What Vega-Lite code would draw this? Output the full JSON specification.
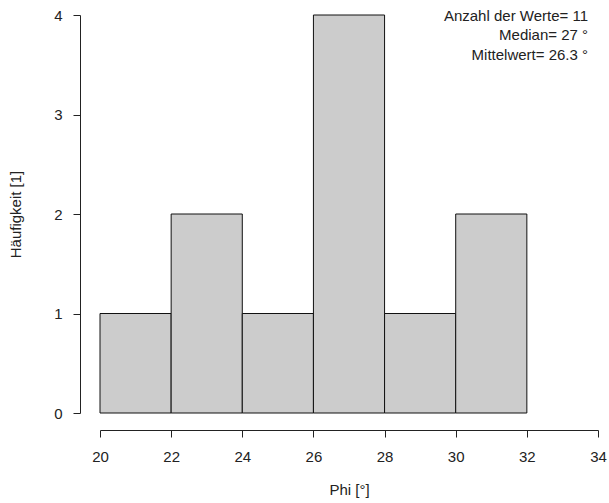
{
  "$schema": "https://vega.github.io/schema/vega-lite/v6.json",
  "width": 498,
  "height": 398,
  "autosize": {"type": "none"},
  "padding": {"left": 100, "top": 15, "right": 11, "bottom": 90},
  "background": "white",
  "config": {
    "view": {"stroke": null},
    "font": "Liberation Sans",
    "axis": {
      "grid": false,
      "domainColor": "#222222",
      "tickColor": "#222222",
      "tickSize": 7,
      "labelFont": "Liberation Sans",
      "labelFontSize": 15,
      "labelColor": "#222222",
      "titleFont": "Liberation Sans",
      "titleFontSize": 15,
      "titleFontWeight": "normal",
      "titleColor": "#222222"
    }
  },
  "layer": [
    {
      "data": {
        "values": [
          {"bin_start": 20, "bin_end": 22, "count": 1},
          {"bin_start": 22, "bin_end": 24, "count": 2},
          {"bin_start": 24, "bin_end": 26, "count": 1},
          {"bin_start": 26, "bin_end": 28, "count": 4},
          {"bin_start": 28, "bin_end": 30, "count": 1},
          {"bin_start": 30, "bin_end": 32, "count": 2}
        ]
      },
      "mark": {"type": "rect", "fill": "#cccccc", "stroke": "#111111", "strokeWidth": 1},
      "encoding": {
        "x": {
          "field": "bin_start",
          "type": "quantitative",
          "scale": {"domain": [20, 34], "nice": false, "zero": false},
          "axis": {
            "title": "Phi [°]",
            "values": [20, 22, 24, 26, 28, 30, 32, 34],
            "format": "d",
            "offset": 17,
            "labelPadding": 12,
            "titlePadding": 18,
            "labelFlush": false
          }
        },
        "x2": {"field": "bin_end"},
        "y": {
          "field": "count",
          "type": "quantitative",
          "scale": {"domain": [0, 4], "nice": false},
          "axis": {
            "title": "Häufigkeit [1]",
            "values": [0, 1, 2, 3, 4],
            "format": "d",
            "offset": 20,
            "labelPadding": 11,
            "titlePadding": 30,
            "labelFlush": false
          }
        },
        "y2": {"datum": 0}
      }
    },
    {
      "data": {"values": [{"n": 11, "median": 27, "mean": 26.3}]},
      "mark": {
        "type": "text",
        "align": "right",
        "baseline": "top",
        "fontSize": 15,
        "fontWeight": "normal",
        "lineHeight": 19.5,
        "color": "#222222",
        "text": ["Anzahl der Werte= 11", "Median= 27 °", "Mittelwert= 26.3 °"]
      },
      "encoding": {
        "x": {"datum": 33.72},
        "y": {"datum": 4.065}
      }
    }
  ]
}
